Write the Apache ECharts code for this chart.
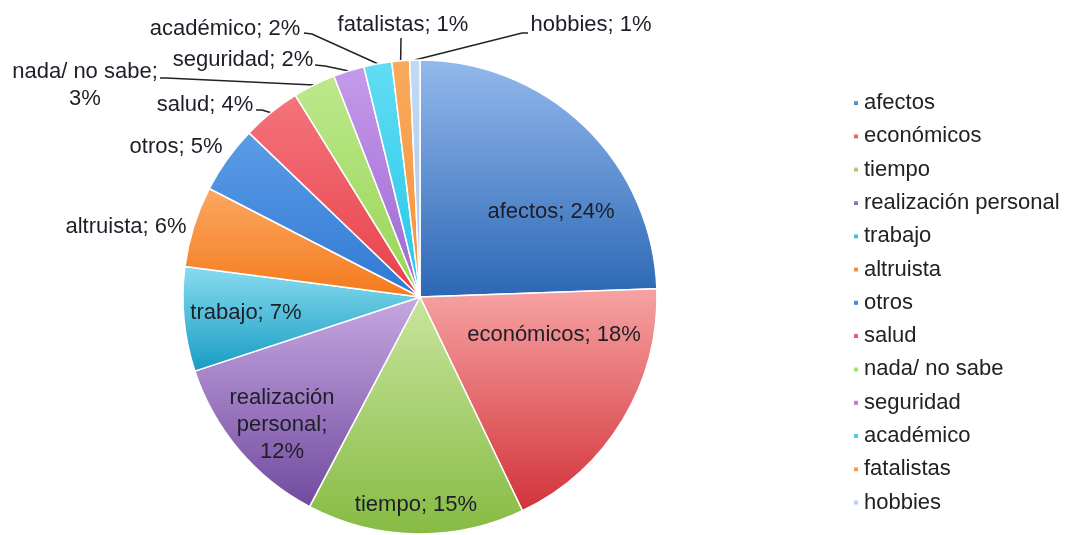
<!DOCTYPE html>
<html>
<head>
<meta charset="utf-8">
<script src="https://cdn.jsdelivr.net/npm/echarts@6/dist/echarts.min.js"></script>
<style>
  html, body { margin: 0; padding: 0; background: #fff; }
  #chart { width: 1066px; height: 535px; }
</style>
</head>
<body>
<div id="chart"></div>
<script>
  // categorías y valores (estimados del ángulo de cada sector)
  const names = ['afectos', 'económicos', 'tiempo', 'realización personal', 'trabajo', 'altruista',
    'otros', 'salud', 'nada/ no sabe', 'seguridad', 'académico', 'fatalistas', 'hobbies'];
  const values = [24.4, 18.4, 14.8, 12.2, 7.1, 5.5, 4.6, 4.0, 2.9, 2.1, 1.9, 1.2, 0.7];

  // colores (arriba, abajo) de cada sector
  const colorsTop = ['#93b9ec', '#f7a3a3', '#c8e59e', '#c6a8e2', '#88dcef', '#fba862',
    '#5c9de7', '#f4747c', '#bde88c', '#c59aea', '#62ddf3', '#f9aa5c', '#c4d9f5'];
  const colorsBottom = ['#2c67b5', '#d2323a', '#86bb43', '#714a9e', '#179cc2', '#f47a1c',
    '#2f78d2', '#e8404a', '#97d554', '#9d66d2', '#22c6ea', '#f5923a', '#a7c5ef'];

  // posición de cada etiqueta [x, y]
  const labelPos = [[551, 212], [554, 335], [416, 505], [282, 425], [246, 313], [126, 227],
    [176, 147], [205, 105], [85, 85], [243, 60], [225, 29], [403, 25], [591, 25]];
  // quiebre de la línea guía (null = sin línea)
  const linePts = [null, null, null, null, null, null, null,
    [[262, 110], [256, 110]],
    [[166, 78], [160, 78]],
    [[325, 66], [315, 65]],
    [[312, 34], [304, 33]],
    [[401, 38], [401, 38]],
    [[522, 33], [528, 33]]];
  const insideCount = 5;

  const myChart = echarts.init(document.getElementById('chart'));

  function labelText(p) {
    let pct = Math.round(p.percent) + '%';
    if (p.name === 'realización personal') return 'realización\npersonal;\n' + pct;
    if (p.name === 'nada/ no sabe') return 'nada/ no sabe;\n' + pct;
    return p.name + '; ' + pct;
  }

  let data = names.map((n, i) => ({
    name: n,
    value: values[i],
    itemStyle: {
      color: new echarts.graphic.LinearGradient(0, 0, 0, 1, [
        {offset: 0, color: colorsTop[i]},
        {offset: 1, color: colorsBottom[i]}
      ])
    },
    label: {position: i < insideCount ? 'inside' : 'outside'},
    labelLine: {show: linePts[i] !== null}
  }));

  let option = {
    animation: false,
    backgroundColor: '#fff',
    textStyle: {fontFamily: 'Liberation Sans, Arial, sans-serif'},
    legend: {
      orient: 'vertical',
      left: 852,
      top: 92,
      height: 440,
      padding: 0,
      itemWidth: 6,
      itemHeight: 6,
      itemGap: 11.3,
      icon: 'rect',
      data: names,
      textStyle: {fontSize: 22, lineHeight: 22, color: '#222'}
    },
    series: [{
      type: 'pie',
      center: [420, 297],
      radius: 237,
      startAngle: 90,
      clockwise: true,
      avoidLabelOverlap: false,
      data: data,
      itemStyle: {borderColor: '#fff', borderWidth: 1.5},
      label: {
        show: true,
        formatter: labelText,
        fontSize: 22,
        lineHeight: 27,
        color: '#1e1e28',
        align: 'center'
      },
      labelLine: {
        show: true,
        length: 10,
        length2: 10,
        lineStyle: {color: '#222', width: 1.5}
      },
      labelLayout: function (params) {
        let i = params.dataIndex;
        let res = {
          x: labelPos[i][0],
          y: labelPos[i][1],
          align: 'center',
          verticalAlign: 'middle'
        };
        if (linePts[i] && params.labelLinePoints) {
          let edge = params.labelLinePoints[0];
          res.labelLinePoints = [edge, linePts[i][0], linePts[i][1]];
        }
        return res;
      }
    }]
  };

  myChart.setOption(option);
</script>
</body>
</html>
